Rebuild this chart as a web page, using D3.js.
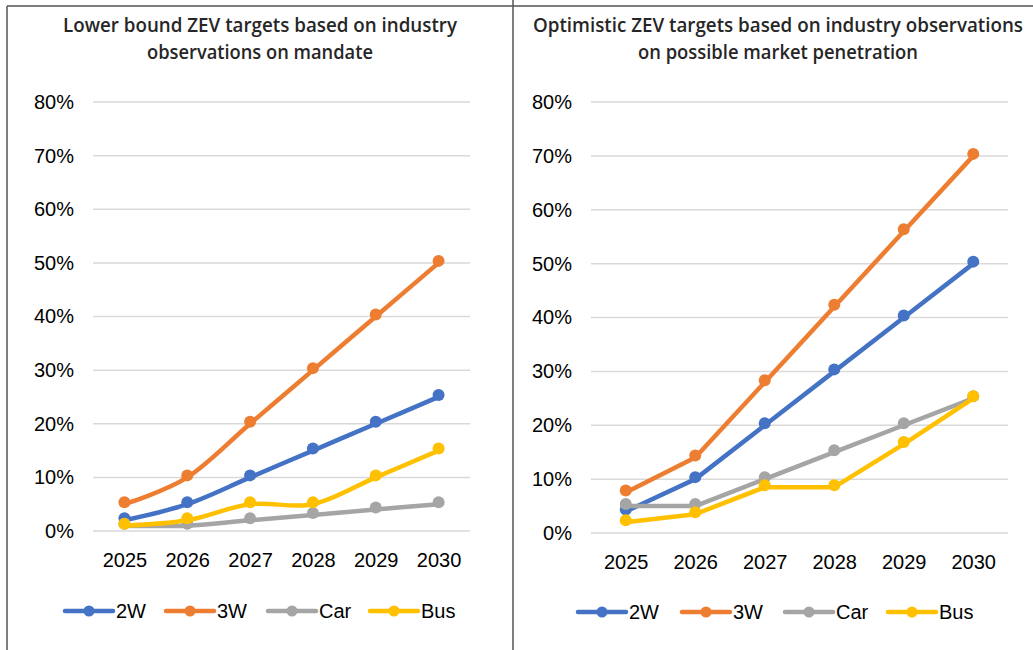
<!DOCTYPE html>
<html><head><meta charset="utf-8">
<script src="https://cdn.jsdelivr.net/npm/d3@7"></script>
<style>body{margin:0;background:#fff}svg{display:block}</style>
</head><body>
<svg id="c" width="1033" height="650"></svg>
<script>
const years = ["2025","2026","2027","2028","2029","2030"];
const seriesNames = ["2W","3W","Car","Bus"];
const colors = ["#4472C4","#ED7D31","#A5A5A5","#FFC000"];
const yTicks = [0,10,20,30,40,50,60,70,80];

// Left panel: lower bound
const left2W  = [2,5,10,15,20,25];
const left3W  = [5,10,20,30,40,50];
const leftCar = [1,1,2,3,4,5];
const leftBus = [1,2,5,5,10,15];
// Right panel: optimistic
const right2W  = [4,10,20,30,40,50];
const right3W  = [7.5,14,28,42,56,70];
const rightCar = [5,5,10,15,20,25];
const rightBus = [2,3.5,8.5,8.5,16.5,25];

const leftTitle = ["Lower bound ZEV targets based on industry","observations on mandate"];
const rightTitle = ["Optimistic ZEV targets based on industry observations","on possible market penetration"];

const svg = d3.select("#c");

// frame
svg.append("line").attr("x1",7).attr("x2",7).attr("y1",6).attr("y2",650).attr("stroke","#555").attr("stroke-width",1.5);
svg.append("line").attr("x1",7).attr("x2",1033).attr("y1",6).attr("y2",6).attr("stroke","#555").attr("stroke-width",1.5);
svg.append("line").attr("x1",513).attr("x2",513).attr("y1",0).attr("y2",650).attr("stroke","#555").attr("stroke-width",1.5);

function panel(cfg){
  const g = svg.append("g");
  const x = d3.scalePoint().domain(years).range([cfg.x0, cfg.x1]).padding(0.5);
  const y = d3.scaleLinear().domain([0,80]).range([cfg.y0, cfg.y1]);
  // title
  cfg.title.forEach((t,i)=>{
    g.append("text").attr("x",cfg.tx).attr("y",cfg.ty + i*27)
      .attr("text-anchor","middle").attr("font-family","'Open Sans', Roboto, sans-serif")
      .attr("font-weight",600).attr("font-size",19).attr("fill","#262626")
      .attr("textLength",cfg.tw[i]).attr("lengthAdjust","spacingAndGlyphs").text(t);
  });
  // grid
  g.append("g").selectAll("line").data(yTicks).join("line")
    .attr("x1",cfg.x0).attr("x2",cfg.x1).attr("y1",d=>y(d)).attr("y2",d=>y(d))
    .attr("stroke","#d9d9d9").attr("stroke-width",1.5);
  // y axis
  const ya = g.append("g").attr("transform",`translate(${cfg.x0},0)`)
    .call(d3.axisLeft(y).tickValues(yTicks).tickFormat(d=>d+"%").tickSize(0).tickPadding(cfg.ypad));
  ya.select(".domain").remove();
  ya.selectAll("text").attr("font-family","'Liberation Sans', Arial, sans-serif").attr("font-size",20).attr("fill","#000");
  // x axis
  const xa = g.append("g").attr("transform",`translate(0,${cfg.y0})`)
    .call(d3.axisBottom(x).tickSize(0).tickPadding(cfg.xpad));
  xa.select(".domain").remove();
  xa.selectAll("text").attr("font-family","'Liberation Sans', Arial, sans-serif").attr("font-size",20).attr("fill","#000");
  // lines
  const line = d3.line().x((d,i)=>x(years[i])).y(d=>y(d)).curve(cfg.curve);
  cfg.data.forEach((s,k)=>{
    g.append("path").attr("d",line(s)).attr("fill","none").attr("stroke",colors[k])
      .attr("stroke-width",4.5).attr("stroke-linecap","round").attr("stroke-linejoin","round");
    g.append("g").attr("transform","translate(0,-2)").selectAll("circle").data(s).join("circle")
      .attr("cx",(d,i)=>x(years[i])).attr("cy",d=>y(d)).attr("r",6).attr("fill",colors[k]);
  });
  // legend
  const lg = g.append("g");
  seriesNames.forEach((n,k)=>{
    const lx = cfg.lx[k];
    lg.append("line").attr("x1",lx).attr("x2",lx+48).attr("y1",cfg.ly).attr("y2",cfg.ly)
      .attr("stroke",colors[k]).attr("stroke-width",4.5).attr("stroke-linecap","round");
    lg.append("circle").attr("cx",lx+24).attr("cy",cfg.ly).attr("r",5.5).attr("fill",colors[k]);
    lg.append("text").attr("x",lx+51).attr("y",cfg.ly).attr("dy","0.35em")
      .attr("font-family","'Liberation Sans', Arial, sans-serif").attr("font-size",20).attr("fill","#000").text(n);
  });
}

panel({x0:93,x1:470,y0:531,y1:102,title:leftTitle,tx:260,ty:32,tw:[394,226],
  ypad:19,xpad:22,curve:d3.curveCatmullRom.alpha(0),
  data:[left2W,left3W,leftCar,leftBus],lx:[65,166,268,370],ly:611});
panel({x0:591,x1:1008,y0:533,y1:102,title:rightTitle,tx:778,ty:32,tw:[490,280],
  ypad:19,xpad:22,curve:d3.curveLinear,
  data:[right2W,right3W,rightCar,rightBus],lx:[578,682,785,888],ly:612});
</script>
</body></html>
